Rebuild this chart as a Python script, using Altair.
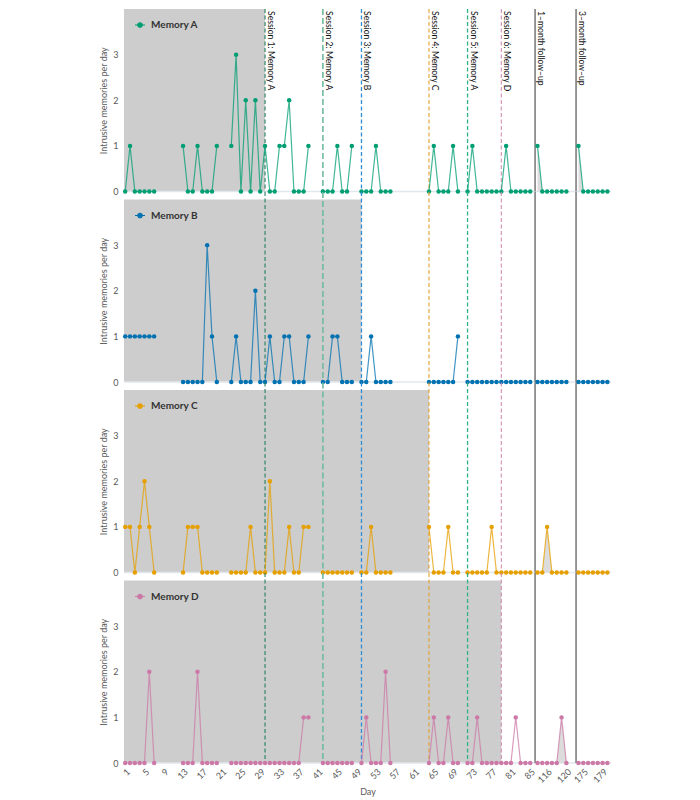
import altair as alt
import pandas as pd

# ---------------- data ----------------
runs = [(1, 7), (13, 20), (23, 39), (42, 48), (50, 56), (64, 70), (72, 85), (114, 120), (174, 180)]
days = [d for a, b in runs for d in range(a, b + 1)]
segments = [k for k, (a, b) in enumerate(runs) for d in range(a, b + 1)]

memory_a = [0, 1, 0, 0, 0, 0, 0,
            1, 0, 0, 1, 0, 0, 0, 1,
            1, 3, 0, 2, 0, 2, 0, 1, 0, 0, 1, 1, 2, 0, 0, 0, 1,
            0, 0, 0, 1, 0, 0, 1,
            0, 0, 0, 1, 0, 0, 0,
            0, 1, 0, 0, 0, 1, 0,
            0, 1, 0, 0, 0, 0, 0, 0, 1, 0, 0, 0, 0, 0,
            1, 0, 0, 0, 0, 0, 0,
            1, 0, 0, 0, 0, 0, 0]
memory_b = [1, 1, 1, 1, 1, 1, 1,
            0, 0, 0, 0, 0, 3, 1, 0,
            0, 1, 0, 0, 0, 2, 0, 0, 1, 0, 0, 1, 1, 0, 0, 0, 1,
            0, 0, 1, 1, 0, 0, 0,
            0, 0, 1, 0, 0, 0, 0,
            0, 0, 0, 0, 0, 0, 1,
            0, 0, 0, 0, 0, 0, 0, 0, 0, 0, 0, 0, 0, 0,
            0, 0, 0, 0, 0, 0, 0,
            0, 0, 0, 0, 0, 0, 0]
memory_c = [1, 1, 0, 1, 2, 1, 0,
            0, 1, 1, 1, 0, 0, 0, 0,
            0, 0, 0, 0, 1, 0, 0, 0, 2, 0, 0, 0, 1, 0, 0, 1, 1,
            0, 0, 0, 0, 0, 0, 0,
            0, 0, 1, 0, 0, 0, 0,
            1, 0, 0, 0, 1, 0, 0,
            0, 0, 0, 0, 0, 1, 0, 0, 0, 0, 0, 0, 0, 0,
            0, 0, 1, 0, 0, 0, 0,
            0, 0, 0, 0, 0, 0, 0]
memory_d = [0, 0, 0, 0, 0, 2, 0,
            0, 0, 0, 2, 0, 0, 0, 0,
            0, 0, 0, 0, 0, 0, 0, 0, 0, 0, 0, 0, 0, 0, 0, 1, 1,
            0, 0, 0, 0, 0, 0, 0,
            0, 1, 0, 0, 0, 2, 0,
            0, 1, 0, 0, 1, 0, 0,
            0, 0, 1, 0, 0, 0, 0, 0, 0, 0, 1, 0, 0, 0,
            0, 0, 0, 0, 0, 1, 0,
            0, 0, 0, 0, 0, 0, 0]

memory_names = ["Memory A", "Memory B", "Memory C", "Memory D"]
memory_values = [memory_a, memory_b, memory_c, memory_d]
memory_colors = ["#009E73", "#0072B2", "#E69F00", "#CC79A7"]
baseline_end_day = [30, 50, 64, 79]

session_labels = ["Session 1: Memory A", "Session 2: Memory A", "Session 3: Memory B",
                  "Session 4: Memory C", "Session 5: Memory A", "Session 6: Memory D",
                  "1\u2013month follow\u2013up", "3\u2013month follow\u2013up"]
session_days = [30, 42, 50, 64, 72, 79, 113.5, 173.5]
session_colors = ["#24805f", "#6fbb9e", "#2f8fd6", "#e3a030", "#2fb386", "#d08db2", "#555555", "#555555"]
session_dash = [[4, 2.5], [6, 3], [4, 2.5], [4, 2.5], [4, 2.5], [4, 2.5], [1, 0], [1, 0]]
session_width = [1.1, 1.6, 1.3, 1.1, 1.3, 1.1, 1.2, 1.2]

tick_days = list(range(1, 86, 4)) + [116, 120, 175, 179]


def pos(day):
    # compressed day axis: days 1-85, then the two follow-up weeks
    if day >= 150:
        return day - 80
    if day >= 100:
        return day - 28.5
    return day - 1


# ---------------- layout ----------------
W, H, GAP = 487, 182.5, 7.5
GRAY = "#cdcdcd"
TXT = "#595959"

xscale = alt.Scale(domain=[-0.25, 100.75], nice=False, zero=False)
yscale = alt.Scale(domain=[0, 4], nice=False)

yaxis = alt.Axis(values=[0, 1, 2, 3], title="Intrusive memories per day", grid=False, ticks=False,
                 domain=False, labelPadding=6, titlePadding=4, labelFontSize=9, titleFontSize=9,
                 labelColor=TXT, titleColor=TXT, titleFontWeight="normal", labelFlush=False)
xaxis = alt.Axis(values=[pos(d) for d in tick_days],
                 labelExpr="datum.value <= 84 ? datum.value + 1 : (datum.value < 93 ? datum.value + 28.5 : datum.value + 80)",
                 labelAngle=-45, labelAlign="right", labelBaseline="top", title="Day", grid=False,
                 ticks=False, domain=False, labelPadding=4, titlePadding=3, labelFontSize=9,
                 titleFontSize=9, labelColor=TXT, titleColor=TXT, titleFontWeight="normal",
                 labelOverlap=False, labelFlush=False)

legend_symbol = "M-1,0L1,0M-0.45,0A0.45,0.45,0,1,0,0.45,0A0.45,0.45,0,1,0,-0.45,0Z"

sessions = pd.DataFrame({
    "label": session_labels,
    "pos": [pos(d) for d in session_days],
})

panels = []
for i, (name, vals, col, bend) in enumerate(zip(memory_names, memory_values, memory_colors, baseline_end_day)):
    df = pd.DataFrame({"day": days, "count": vals, "seg": segments, "memory": name})
    df["pos"] = df["day"].map(pos)

    X = alt.X("pos:Q", scale=xscale, axis=(xaxis if i == 3 else None))
    Y = alt.Y("count:Q", scale=yscale, axis=yaxis, stack=None)

    gray = alt.Chart(pd.DataFrame({"pos": [pos(bend)]})).mark_rect(color=GRAY).encode(
        x=X, x2=alt.value(0), y=alt.value(0), y2=alt.value(H))

    zero = alt.Chart(pd.DataFrame({"count": [0]})).mark_rule(color="#e2e7ee", strokeWidth=1.5).encode(
        y=Y, x=alt.value(0), x2=alt.value(W))

    area = alt.Chart(df).transform_filter("datum.day >= 100").mark_area(color="#dcdcdc").encode(
        x=X, y=Y, detail="seg:N")

    rules = []
    for lab, c, dsh, w in zip(session_labels, session_colors, session_dash, session_width):
        rules.append(
            alt.Chart(sessions).transform_filter(alt.datum.label == lab).mark_rule(
                color=c, strokeDash=dsh, strokeWidth=w).encode(
                x=X, y=alt.value(0 if i == 0 else -GAP), y2=alt.value(H))
        )

    line = alt.Chart(df).mark_line(color=col, strokeWidth=1.2, opacity=0.75).encode(
        x=X, y=Y, detail="seg:N")

    points = alt.Chart(df).mark_circle(size=20, opacity=1).encode(
        x=X, y=Y,
        color=alt.Color("memory:N", scale=alt.Scale(domain=[name], range=[col]),
                        legend=alt.Legend(title=None, orient="top-left", offset=10, padding=0,
                                          symbolType=legend_symbol, symbolSize=100,
                                          symbolStrokeColor=col, symbolStrokeWidth=1.2,
                                          symbolOpacity=1, labelFontWeight="bold",
                                          labelFontSize=10, labelColor="#333333", labelOffset=5)))

    layers = [gray, zero, area] + rules + [line, points]
    if i == 0:
        text = alt.Chart(sessions).mark_text(angle=90, align="left", baseline="bottom", dx=2, dy=-1,
                                             fontSize=8.6, color="#111111").encode(
            x=X, y=alt.value(0), text="label:N")
        layers.append(text)

    panels.append(alt.layer(*layers).properties(width=W, height=H))

chart = alt.vconcat(*panels, spacing=GAP, bounds="flush").resolve_scale(
    color="independent"
).resolve_legend(color="independent").properties(
    padding={"left": 91, "top": 0, "right": 5, "bottom": 0}
).configure(font="Lato").configure_view(stroke=None)

chart.save("out.html", embed_options={"renderer": "svg", "actions": False})
